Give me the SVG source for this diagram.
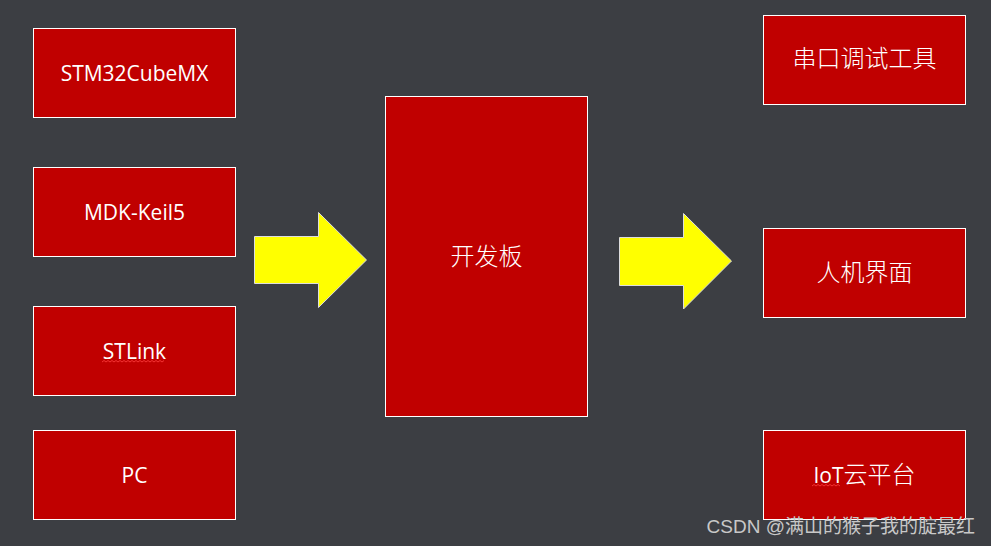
<svg xmlns="http://www.w3.org/2000/svg" width="991" height="546" viewBox="0 0 991 546">
<defs>
<style>
.box{fill:#c00000;stroke:#ffffff;stroke-width:1}
.lt{font-family:"Open Sans","Liberation Sans",sans-serif;font-size:21px;fill:#ffffff;text-anchor:middle}
.cn{font-family:"Noto Sans CJK SC",sans-serif;font-weight:300;font-size:24px;fill:#ffffff;text-anchor:middle}
.arrow{fill:#ffff00;stroke:#dddddd;stroke-width:1}
.sq{fill:none;stroke:#ff4040;stroke-width:0.8}
</style>
</defs>
<rect x="0" y="0" width="991" height="546" fill="#3c3e43"/>
<g id="node-stm32cubemx"><rect class="box" x="33.5" y="28.5" width="202" height="89"/><text class="lt" x="134.5" y="80.5">STM32CubeMX</text></g>
<g id="node-mdk"><rect class="box" x="33.5" y="167.5" width="202" height="89"/><text class="lt" x="134.5" y="219.5">MDK-Keil5</text></g>
<g id="node-stlink"><rect class="box" x="33.5" y="306.5" width="202" height="89"/><text class="lt" x="134.5" y="358.5">STLink</text><path class="sq" d="M102 362 l2 -1.5 l2 1.5 l2 -1.5 l2 1.5 l2 -1.5 l2 1.5 l2 -1.5 l2 1.5 l2 -1.5 l2 1.5 l2 -1.5 l2 1.5 l2 -1.5 l2 1.5 l2 -1.5 l2 1.5 l2 -1.5 l2 1.5 l2 -1.5 l2 1.5 l2 -1.5 l2 1.5 l2 -1.5 l2 1.5 l2 -1.5 l2 1.5 l2 -1.5 l2 1.5 l2 -1.5 l2 1.5 l2 -1.5"/></g>
<g id="node-pc"><rect class="box" x="33.5" y="430.5" width="202" height="89"/><text class="lt" x="134.5" y="482.5">PC</text></g>
<g id="node-board"><rect class="box" x="385.5" y="96.5" width="202" height="320"/><text class="cn" x="486.5" y="265">开发板</text></g>
<g id="node-serial"><rect class="box" x="763.5" y="15.5" width="202" height="89"/><text class="cn" x="864.5" y="67">串口调试工具</text></g>
<g id="node-hmi"><rect class="box" x="763.5" y="228.5" width="202" height="89"/><text class="cn" x="864.5" y="281">人机界面</text></g>
<g id="node-iot"><rect class="box" x="763.5" y="430.5" width="202" height="89"/><text class="cn" x="864.5" y="483"><tspan style="font-family:'Open Sans','Liberation Sans',sans-serif;font-weight:400;font-size:21px">IoT</tspan>云平台</text><path class="sq" d="M812 486 l2 -1.5 l2 1.5 l2 -1.5 l2 1.5 l2 -1.5 l2 1.5 l2 -1.5 l2 1.5 l2 -1.5 l2 1.5 l2 -1.5 l2 1.5 l2 -1.5 l2 1.5"/></g>
<g id="connectors">
<polygon class="arrow" points="254.5,236.5 318.5,236.5 318.5,212.5 366.5,260 318.5,307.5 318.5,283.5 254.5,283.5"/>
<polygon class="arrow" points="619.5,237.5 683.5,237.5 683.5,213.5 731.5,261 683.5,309 683.5,285.5 619.5,285.5"/>
</g>
<text x="975" y="533" text-anchor="end" style="font-family:'Liberation Sans','Noto Sans CJK SC',sans-serif;font-size:19px;fill:#c8c8c8">CSDN @满山的猴子我的腚最红</text>
</svg>
